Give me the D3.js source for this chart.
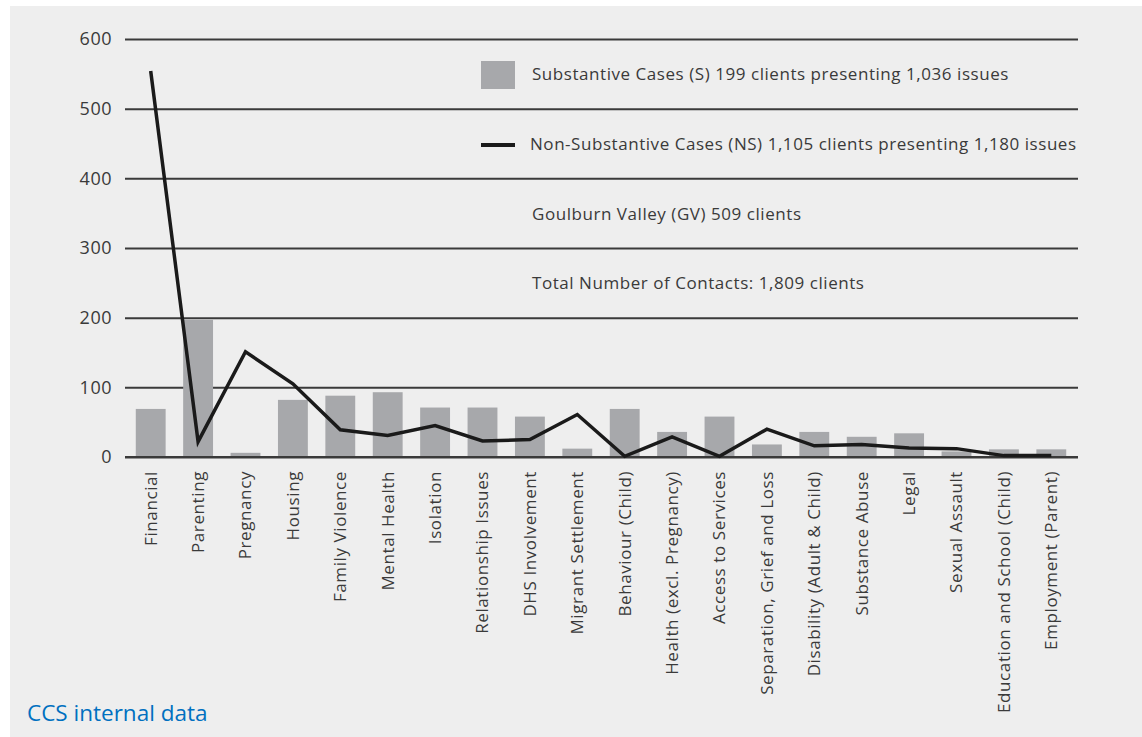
<!DOCTYPE html>
<html>
<head>
<meta charset="utf-8">
<script src="https://cdn.jsdelivr.net/npm/d3@7"></script>
<style>
  html, body { margin: 0; padding: 0; background: #ffffff; }
  svg { display: block; }
</style>
</head>
<body>
<svg id="chart" width="1142" height="737"></svg>
<script>
const categories = ["Financial", "Parenting", "Pregnancy", "Housing", "Family Violence", "Mental Health",
  "Isolation", "Relationship Issues", "DHS Involvement", "Migrant Settlement", "Behaviour (Child)",
  "Health (excl. Pregnancy)", "Access to Services", "Separation, Grief and Loss", "Disability (Adult & Child)",
  "Substance Abuse", "Legal", "Sexual Assault", "Education and School (Child)", "Employment (Parent)"];
const substantive = [69, 197, 6, 82, 88, 93, 71, 71, 58, 12, 69, 36, 58, 18, 36, 29, 34, 8, 11, 11];
const nonSubstantive = [554, 22, 151, 105, 39, 31, 45, 23, 25, 61, 1, 29, 1, 40, 16, 18, 13, 12, 2, 2];
const yTicks = [0, 100, 200, 300, 400, 500, 600];
const legendLines = [
  "Substantive Cases (S) 199 clients presenting 1,036 issues",
  "Non-Substantive Cases (NS) 1,105 clients presenting 1,180 issues",
  "Goulburn Valley (GV) 509 clients",
  "Total Number of Contacts: 1,809 clients"
];
const sourceText = "CCS internal data";

const svg = d3.select("#chart");
const font = "'Open Sans', 'DejaVu Sans', sans-serif";
const textColor = "#3a3a3a";

svg.append("rect").attr("x", 10).attr("y", 6).attr("width", 1132).attr("height", 731).attr("fill", "#eeeeee");

const x = d3.scaleBand().domain(categories).range([127, 1075]).paddingInner(0.37).paddingOuter(0.185);
const y = d3.scaleLinear().domain([0, 600]).range([457, 39]);

// gridlines + y axis labels
const yAxis = d3.axisLeft(y).tickValues(yTicks).tickSize(-953).tickPadding(13).tickFormat(d3.format("d"));
const gy = svg.append("g").attr("transform", "translate(125,0)").call(yAxis);
gy.select(".domain").remove();
gy.selectAll(".tick line").attr("stroke", "#3a3a3a").attr("stroke-width", 2);
gy.selectAll(".tick text").attr("fill", textColor)
  .style("font-family", font).style("font-size", "18px").style("letter-spacing", "0.5px");

// bars
svg.append("g").selectAll("rect").data(categories).join("rect")
  .attr("x", d => x(d))
  .attr("width", x.bandwidth())
  .attr("y", (d, i) => y(substantive[i]))
  .attr("height", (d, i) => y(0) - y(substantive[i]))
  .attr("fill", "#a7a8ab");

// redraw baseline over bars
svg.append("line").attr("x1", 125).attr("x2", 1078).attr("y1", y(0)).attr("y2", y(0))
  .attr("stroke", "#3a3a3a").attr("stroke-width", 2);

// line
const line = d3.line().x((d, i) => x(categories[i]) + x.bandwidth() / 2).y(d => y(d));
svg.append("path").datum(nonSubstantive).attr("d", line)
  .attr("fill", "none").attr("stroke", "#1a1a1a").attr("stroke-width", 3.5).attr("stroke-linejoin", "miter");

// x labels
const xAxis = d3.axisBottom(x).tickSize(0).tickPadding(0);
const gx = svg.append("g").attr("transform", `translate(0,${y(0)})`).call(xAxis);
gx.select(".domain").remove();
gx.selectAll(".tick text")
  .attr("transform", "rotate(-90)")
  .attr("x", -14).attr("y", 0).attr("dy", "0.35em")
  .attr("text-anchor", "end")
  .attr("fill", textColor)
  .style("font-family", font).style("font-size", "17px").style("letter-spacing", "0.6px");

// legend
const lg = svg.append("g");
lg.append("rect").attr("x", 481).attr("y", 61).attr("width", 34).attr("height", 28).attr("fill", "#a7a8ab");
lg.append("line").attr("x1", 481).attr("x2", 515).attr("y1", 145).attr("y2", 145)
  .attr("stroke", "#1a1a1a").attr("stroke-width", 4);
const legendY = [74, 144, 214, 283];
const legendX = [532, 530, 532, 532];
lg.selectAll("text").data(legendLines).join("text")
  .attr("x", (d, i) => legendX[i]).attr("y", (d, i) => legendY[i]).attr("dy", "0.35em")
  .attr("fill", textColor)
  .style("font-family", font).style("font-size", "17px").style("letter-spacing", "0.55px")
  .text(d => d);

svg.append("text").attr("x", 27).attr("y", 721).attr("fill", "#0070c0")
  .style("font-family", font).style("font-size", "22.5px").text(sourceText);
</script>
</body>
</html>
